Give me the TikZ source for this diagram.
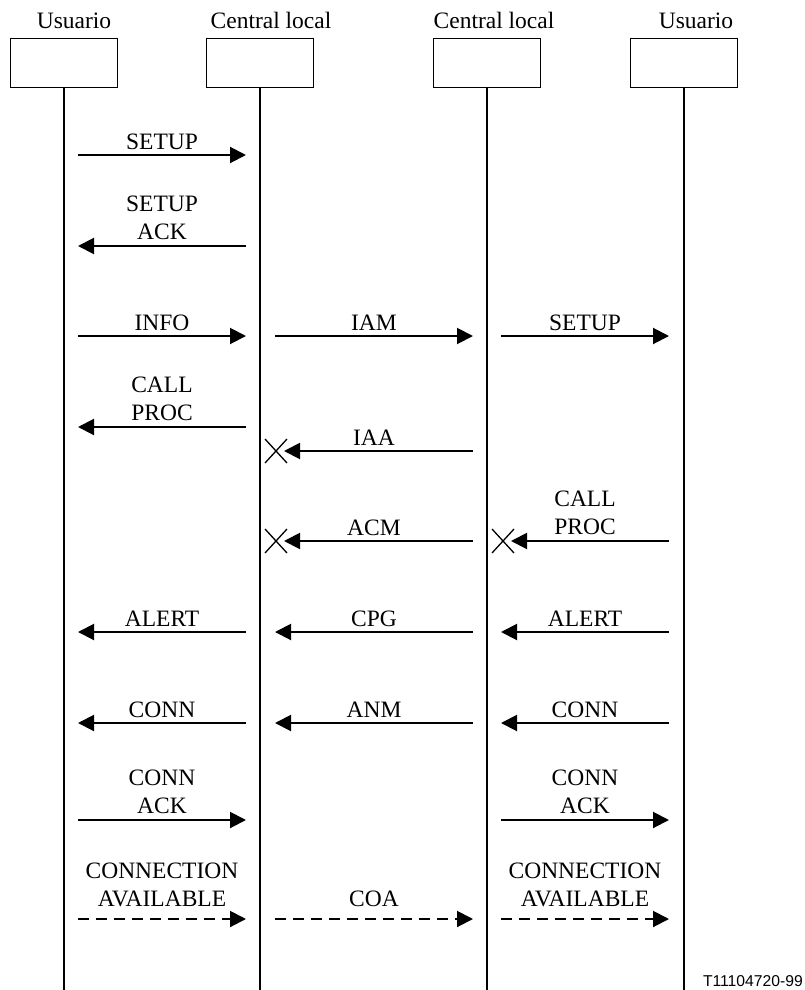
\documentclass[tikz,border=0pt]{standalone}
\usepackage{fontspec}
\setmainfont{Liberation Serif}
\newfontfamily\footfont{Liberation Sans}
\usetikzlibrary{arrows.meta,calc}
\begin{document}
\begin{tikzpicture}[x=1pt,y=-1pt,
  actor/.style={draw, line width=1pt, minimum width=107pt, minimum height=48pt, inner sep=0pt},
  life/.style={line width=2pt},
  msgline/.style={line width=2pt, -{Triangle[length=16pt,width=16pt]}},
  async/.style={msgline, dash pattern=on 11pt off 7pt},
  lbl/.style={font=\fontsize{23.5}{28}\selectfont, inner sep=0pt, align=center, anchor=south, text depth=0pt, yshift=6pt},
  hdr/.style={font=\fontsize{23.5}{28}\selectfont, inner sep=0pt, anchor=base},
  cross/.style={line width=1.3pt}]
\useasboundingbox (0,0) rectangle (805,990);

% actors
\node[actor] (b1) at (63.5,63) {};
\node[actor] (b2) at (260,63) {};
\node[actor] (b3) at (487,63) {};
\node[actor] (b4) at (684,63) {};
\node[hdr] (h1) at (74,29) {Usuario};
\node[hdr] (h2) at (271,29) {Central local};
\node[hdr] (h3) at (494,29) {Central local};
\node[hdr] (h4) at (696,29) {Usuario};

% lifelines
\coordinate (e1) at (63.5,990);
\coordinate (e2) at (260,990);
\coordinate (e3) at (487,990);
\coordinate (e4) at (684,990);
\draw[life] (b1.south) -- (e1);
\draw[life] (b2.south) -- (e2);
\draw[life] (b3.south) -- (e3);
\draw[life] (b4.south) -- (e4);

% row 1
\coordinate (r1a) at (78,155); \coordinate (r1b) at (246,155);
\draw[msgline] (r1a) -- (r1b) node[lbl,pos=0.5,yshift=-1pt] {SETUP};
% row 2
\coordinate (r2a) at (246,246); \coordinate (r2b) at (78,246);
\draw[msgline] (r2a) -- (r2b) node[lbl,pos=0.5] {SETUP\\ACK};
% row 3
\coordinate (r3a) at (78,336); \coordinate (r3b) at (246,336);
\coordinate (r3c) at (275,336); \coordinate (r3d) at (473,336);
\coordinate (r3e) at (501,336); \coordinate (r3f) at (669,336);
\draw[msgline] (r3a) -- (r3b) node[lbl,pos=0.5,yshift=-1pt] {INFO};
\draw[msgline] (r3c) -- (r3d) node[lbl,pos=0.5,yshift=-1pt] {IAM};
\draw[msgline] (r3e) -- (r3f) node[lbl,pos=0.5,yshift=-1pt] {SETUP};
% row 4
\coordinate (r4a) at (246,427); \coordinate (r4b) at (78,427);
\draw[msgline] (r4a) -- (r4b) node[lbl,pos=0.5] {CALL\\PROC};
% row 5 (IAA with cross)
\coordinate (r5a) at (473,451); \coordinate (r5b) at (284,451);
\draw[msgline] (r5a) -- (r5b);
\node[lbl,yshift=-1pt] (t5) at (374,451) {IAA};
\coordinate (x5) at (276,451);
\draw[cross] ($(x5)+(-11,-12)$) -- ($(x5)+(11,12)$);
\draw[cross] ($(x5)+(-11,12)$) -- ($(x5)+(11,-12)$);
% row 6
\coordinate (r6a) at (473,541); \coordinate (r6b) at (284,541);
\coordinate (r6c) at (669,541); \coordinate (r6d) at (511,541);
\draw[msgline] (r6a) -- (r6b);
\node[lbl,yshift=-1pt] (t6) at (374,541) {ACM};
\draw[msgline] (r6c) -- (r6d);
\node[lbl] (t6b) at (585,541) {CALL\\PROC};
\coordinate (x6) at (276,541);
\coordinate (x6b) at (503,541);
\draw[cross] ($(x6)+(-11,-12)$) -- ($(x6)+(11,12)$);
\draw[cross] ($(x6)+(-11,12)$) -- ($(x6)+(11,-12)$);
\draw[cross] ($(x6b)+(-11,-12)$) -- ($(x6b)+(11,12)$);
\draw[cross] ($(x6b)+(-11,12)$) -- ($(x6b)+(11,-12)$);
% row 7
\coordinate (r7a) at (246,632); \coordinate (r7b) at (78,632);
\coordinate (r7c) at (473,632); \coordinate (r7d) at (275,632);
\coordinate (r7e) at (669,632); \coordinate (r7f) at (501,632);
\draw[msgline] (r7a) -- (r7b) node[lbl,pos=0.5,yshift=-1pt] {ALERT};
\draw[msgline] (r7c) -- (r7d) node[lbl,pos=0.5,yshift=-1pt] {CPG};
\draw[msgline] (r7e) -- (r7f) node[lbl,pos=0.5,yshift=-1pt] {ALERT};
% row 8
\coordinate (r8a) at (246,723); \coordinate (r8b) at (78,723);
\coordinate (r8c) at (473,723); \coordinate (r8d) at (275,723);
\coordinate (r8e) at (669,723); \coordinate (r8f) at (501,723);
\draw[msgline] (r8a) -- (r8b) node[lbl,pos=0.5,yshift=-1pt] {CONN};
\draw[msgline] (r8c) -- (r8d) node[lbl,pos=0.5,yshift=-1pt] {ANM};
\draw[msgline] (r8e) -- (r8f) node[lbl,pos=0.5,yshift=-1pt] {CONN};
% row 9
\coordinate (r9a) at (78,820); \coordinate (r9b) at (246,820);
\coordinate (r9c) at (501,820); \coordinate (r9d) at (669,820);
\draw[msgline] (r9a) -- (r9b) node[lbl,pos=0.5] {CONN\\ACK};
\draw[msgline] (r9c) -- (r9d) node[lbl,pos=0.5] {CONN\\ACK};
% row 10
\coordinate (r10a) at (78,919); \coordinate (r10b) at (246,919);
\coordinate (r10c) at (275,919); \coordinate (r10d) at (473,919);
\coordinate (r10e) at (501,919); \coordinate (r10f) at (669,919);
\draw[async] (r10a) -- (r10b) node[lbl,pos=0.5,yshift=6pt] {CONNECTION\\AVAILABLE};
\draw[async] (r10c) -- (r10d) node[lbl,pos=0.5,yshift=6pt] {COA};
\draw[async] (r10e) -- (r10f) node[lbl,pos=0.5,yshift=6pt] {CONNECTION\\AVAILABLE};

\node[font=\footfont\fontsize{15.7}{18}\selectfont, inner sep=0pt, anchor=base east] (ft) at (803,986) {T11104720-99};
\end{tikzpicture}
\end{document}
